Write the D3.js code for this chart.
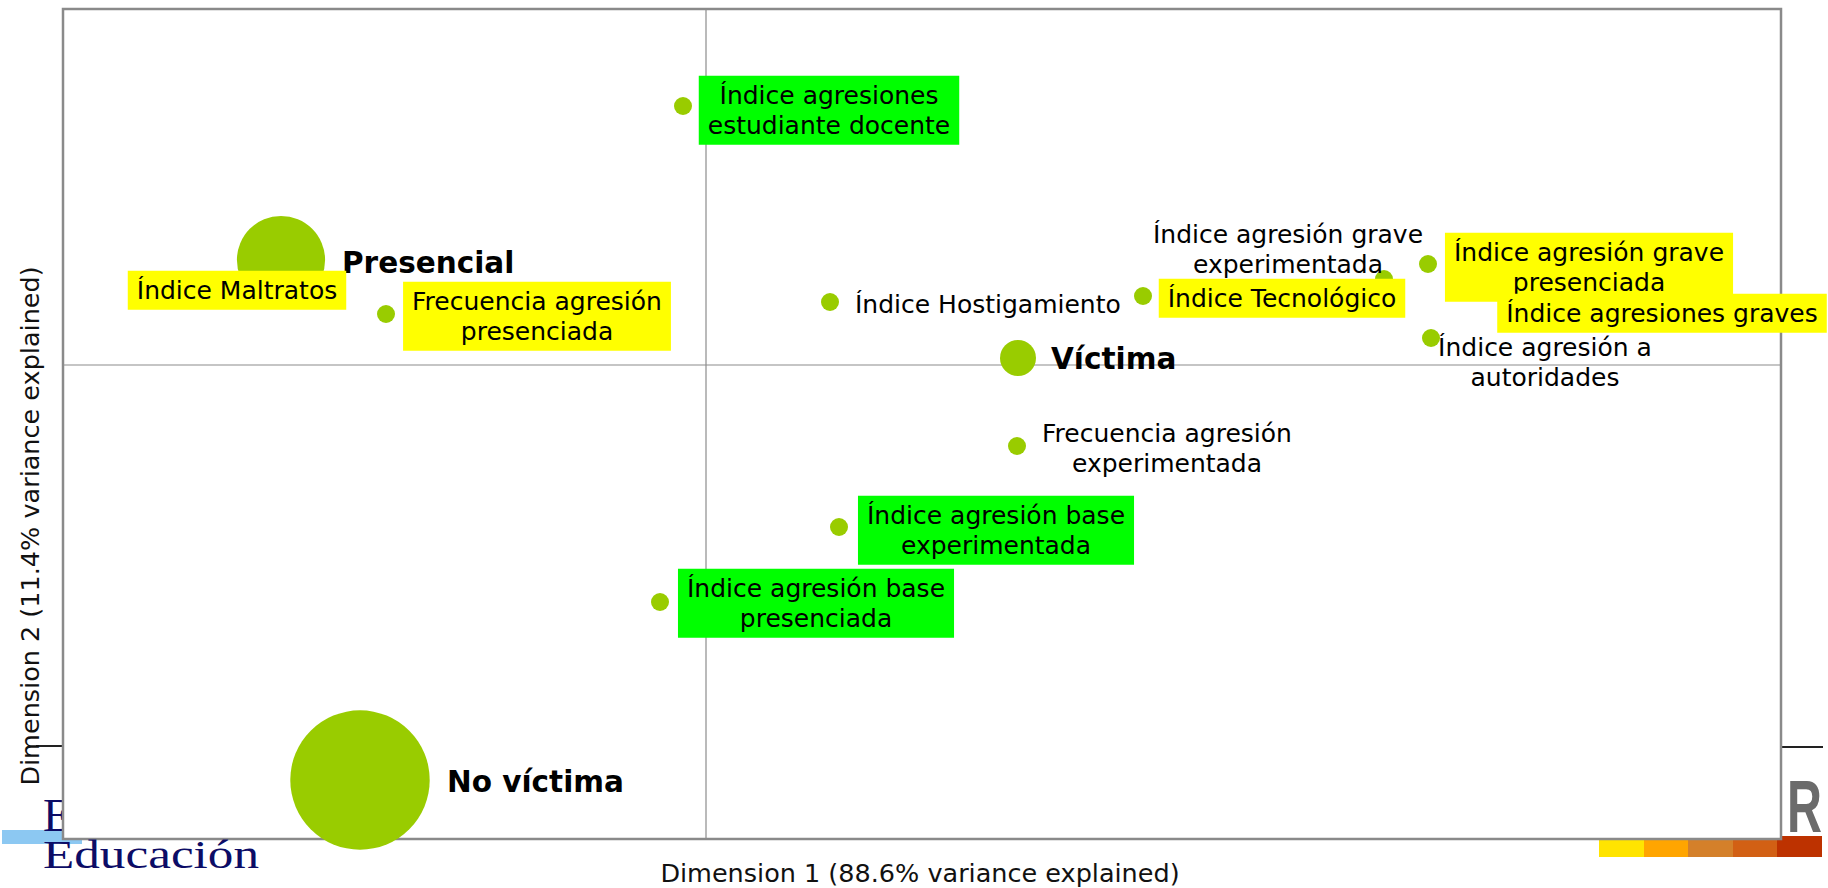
<!DOCTYPE html>
<html>
<head>
<meta charset="utf-8">
<script src="https://cdn.jsdelivr.net/npm/d3@7"></script>
<style>
  html, body { margin: 0; padding: 0; background: #fff; overflow: hidden; }
  svg { display: block; font-family: "DejaVu Sans", Verdana, sans-serif; }
</style>
</head>
<body>
<div id="chart"></div>
<script>
// Correspondence analysis map: victim type vs aggression indices

// Row / column labels (one entry per point, split in lines as in the map)
const pointNames = [
    ["Índice agresiones", "estudiante docente"],
    ["Presencial"],
    ["Índice Maltratos"],
    ["Frecuencia agresión", "presenciada"],
    ["Índice Hostigamiento"],
    ["Índice Tecnológico"],
    ["Índice agresión grave", "experimentada"],
    ["Índice agresión grave", "presenciada"],
    ["Índice agresiones graves"],
    ["Índice agresión a", "autoridades"],
    ["Víctima"],
    ["Frecuencia agresión", "experimentada"],
    ["Índice agresión base", "experimentada"],
    ["Índice agresión base", "presenciada"],
    ["No víctima"]
];

// Coordinates on the two dimensions
const dim1 = [-0.023, -0.425, -0.406, -0.320, 0.124, 0.437, 0.678, 0.722, 0.764, 0.725, 0.312, 0.311, 0.133, -0.046, -0.346];
const dim2 = [0.259, 0.105, 0.080, 0.051, 0.063, 0.069, 0.086, 0.101, 0.080, 0.027, 0.007, -0.081, -0.162, -0.237, -0.415];

// Relative mass (bubble size)
const mass = [1, 24, 1, 1, 1, 1, 1, 1, 1, 1, 4, 1, 1, 1, 60];

const xTitle = "Dimension 1 (88.6% variance explained)";
const yTitle = "Dimension 2 (11.4% variance explained)";

// Label look: highlight colour / bold category labels
const labelStyle = ["green", "bold", "yellow", "yellow", "plain", "yellow", "plain", "yellow",
                    "yellow", "plain", "bold", "plain", "green", "green", "bold"];
// Label placement relative to its point [dx, dy, anchor]
const labelLayout = [
    [146, 4, "middle"], [61, 3, "start"], [-63, 5, "middle"], [151, 2, "middle"],
    [25, 2, "start"], [139, 2, "middle"], [-96, -30, "middle"], [161, 3, "middle"],
    [192, 28, "middle"], [114, 24, "middle"], [33, 1, "start"], [150, 2, "middle"],
    [157, 3, "middle"], [156, 1, "middle"], [87, 2, "start"]
];

const width = 1828, height = 888;
const plot = { left: 63, right: 1781, top: 9, bottom: 839 };

const svg = d3.select("#chart")
    .append("svg")
    .attr("width", width)
    .attr("height", height);

// --- slide background bits (logo remnants), drawn under the plot ---
const deco = svg.append("g");
deco.append("rect").attr("x", 2).attr("y", 830).attr("width", 80).attr("height", 14).attr("fill", "#8cc8f2");
deco.append("text").attr("x", 43).attr("y", 831)
    .attr("font-family", "Liberation Serif, serif").attr("font-size", 46)
    .attr("fill", "#0c0c66").text("E");
deco.append("line").attr("x1", 36).attr("x2", 63).attr("y1", 746).attr("y2", 746)
    .attr("stroke", "#222").attr("stroke-width", 2);
deco.append("line").attr("x1", 1781).attr("x2", 1823).attr("y1", 747).attr("y2", 747)
    .attr("stroke", "#222").attr("stroke-width", 2);
deco.append("text").attr("x", 1787).attr("y", 832)
    .attr("font-family", "Liberation Sans, sans-serif").attr("font-weight", "bold")
    .attr("font-size", 74).attr("fill", "#6b6b6b")
    .attr("textLength", 35).attr("lengthAdjust", "spacingAndGlyphs").text("R");
const stripEdges = [1599, 1644, 1688, 1733, 1777, 1822];
const stripColors = ["#ffe400", "#ffa500", "#d4802a", "#d26014", "#bd3200"];
stripColors.forEach((c, i) => {
    deco.append("rect").attr("x", stripEdges[i]).attr("y", 836)
        .attr("width", stripEdges[i + 1] - stripEdges[i]).attr("height", 21).attr("fill", c);
});

// --- plot frame ---
svg.append("rect")
    .attr("x", plot.left).attr("y", plot.top)
    .attr("width", plot.right - plot.left).attr("height", plot.bottom - plot.top)
    .attr("fill", "#fff").attr("stroke", "#8a8a8a").attr("stroke-width", 2.5);

svg.append("text").attr("x", 43).attr("y", 868)
    .attr("font-family", "Liberation Serif, serif").attr("font-size", 40)
    .attr("fill", "#0c0c66")
    .attr("textLength", 216).attr("lengthAdjust", "spacingAndGlyphs")
    .text("Educación");

// Scales
const x = d3.scaleLinear().domain([-0.643, 1.075]).range([plot.left, plot.right]);
const y = d3.scaleLinear().domain([-0.474, 0.356]).range([plot.bottom, plot.top]);
const r = d3.scaleSqrt().domain([0, 1]).range([0, 9]);

// zero lines
svg.append("line")
    .attr("x1", x(0)).attr("x2", x(0)).attr("y1", plot.top).attr("y2", plot.bottom)
    .attr("stroke", "#8c8c8c").attr("stroke-width", 1.2);
svg.append("line")
    .attr("x1", plot.left).attr("x2", plot.right).attr("y1", y(0)).attr("y2", y(0))
    .attr("stroke", "#8c8c8c").attr("stroke-width", 1.2);

// Axis titles
svg.append("text")
    .attr("x", 920).attr("y", 882)
    .attr("text-anchor", "middle").attr("font-size", 25.5).attr("fill", "#111")
    .text(xTitle);
svg.append("text")
    .attr("transform", "translate(39,526) rotate(-90)")
    .attr("text-anchor", "middle").attr("font-size", 25.5).attr("fill", "#111")
    .text(yTitle);

// Points
svg.append("g")
    .selectAll("circle")
    .data(pointNames.map((d, i) => i))
    .join("circle")
    .attr("cx", i => x(dim1[i]))
    .attr("cy", i => y(dim2[i]))
    .attr("r", i => r(mass[i]))
    .attr("fill", "#99cc00");

// Labels
const lineH = 30;
const labels = svg.append("g");
pointNames.forEach((lines, i) => {
    const st = labelStyle[i];
    const [dx, dy, anchor] = labelLayout[i];
    const cx = x(dim1[i]) + dx;
    const cy = y(dim2[i]) + dy;
    const g = labels.append("g");
    const bg = g.append("rect");
    const t = g.append("text")
        .attr("text-anchor", anchor)
        .attr("font-size", st === "bold" ? 29.5 : 25)
        .attr("font-weight", st === "bold" ? "bold" : "normal")
        .attr("fill", "#000");
    lines.forEach((ln, j) => {
        t.append("tspan")
            .attr("x", cx)
            .attr("y", cy + (j - (lines.length - 1) / 2) * lineH)
            .attr("dy", "0.35em")
            .text(ln);
    });
    if (st === "yellow" || st === "green") {
        const b = t.node().getBBox();
        bg.attr("x", b.x - 9).attr("y", b.y - 5)
            .attr("width", b.width + 18).attr("height", b.height + 10)
            .attr("fill", st === "yellow" ? "#ffff00" : "#00ff00");
    } else {
        bg.remove();
    }
});
</script>
</body>
</html>
